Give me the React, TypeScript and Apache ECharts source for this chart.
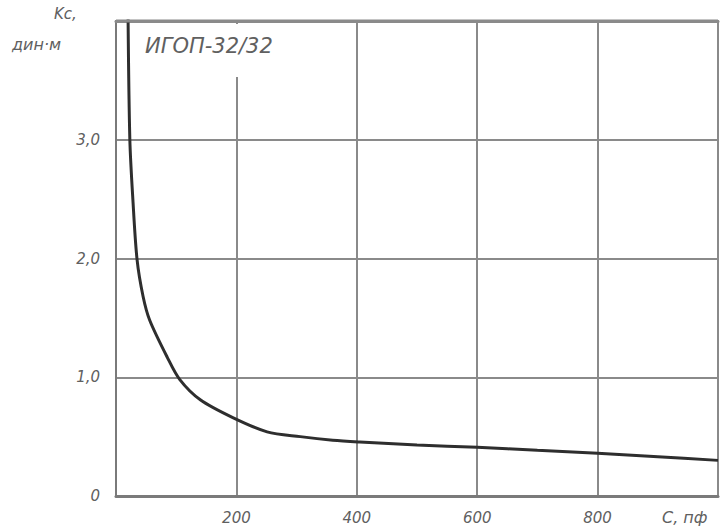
import React, { useEffect, useRef } from "react";
import * as echarts from "echarts";

const capacitance = [20, 23, 28, 35, 45, 56, 85, 106, 140, 194, 251, 306, 360, 405, 500, 600, 700, 800, 900, 1000];
const kc = [4.05, 3.0, 2.5, 1.99, 1.68, 1.48, 1.17, 0.98, 0.81, 0.66, 0.54, 0.5, 0.47, 0.455, 0.43, 0.41, 0.385, 0.36, 0.33, 0.3];
const xTickLabels: Record<number, string> = { 0: "", 200: "200", 400: "400", 600: "600", 800: "800", 1000: "" };
const yTickLabels: Record<number, string> = { 0: "0", 1: "1,0", 2: "2,0", 3: "3,0", 4: "" };
const xTitle = "C, пф";
const curveLabel = "ИГОП-32/32";
const yTitleTop = "Kc,";
const yTitleBottom = "дин·м";

export default function App() {
  const ref = useRef<HTMLDivElement>(null);
  useEffect(() => {
    if (!ref.current) return;
    const chart = echarts.init(ref.current, null, { renderer: "svg" });
    const font = "'DejaVu Sans', sans-serif";
    chart.setOption({
      animation: false,
      backgroundColor: "#fff",
      grid: {
        left: 116,
        top: 21,
        right: 6,
        bottom: 34,
        containLabel: false,
        outerBoundsMode: "none",
        show: true,
        borderColor: "#8a8a8a",
        borderWidth: 2,
      },
      xAxis: [
        {
          type: "value",
          min: 0,
          max: 1000,
          interval: 200,
          axisLine: { show: true, lineStyle: { color: "#7a7a7a", width: 3 } },
          axisTick: { show: false },
          splitLine: { show: true, showMaxLine: true, lineStyle: { color: "#8a8a8a", width: 2 } },
          axisLabel: {
            color: "#606060",
            fontFamily: font,
            fontStyle: "italic",
            fontSize: 15,
            margin: 14,
            formatter: (v: number) => xTickLabels[v] ?? "",
          },
        },
        {
          type: "value",
          position: "top",
          min: 0,
          max: 1000,
          interval: 200,
          axisLine: { show: true, onZero: false, lineStyle: { color: "#8a8a8a", width: 3 } },
          axisTick: { show: false },
          splitLine: { show: false },
          axisLabel: { show: false },
        },
      ],
      yAxis: {
        type: "value",
        min: 0,
        max: 4,
        interval: 1,
        axisLine: { show: true, lineStyle: { color: "#7a7a7a", width: 2 } },
        axisTick: { show: false },
        splitLine: { show: true, showMaxLine: true, lineStyle: { color: "#8a8a8a", width: 2 } },
        axisLabel: {
          color: "#606060",
          fontFamily: font,
          fontStyle: "italic",
          fontSize: 15,
          margin: 16,
          formatter: (v: number) => yTickLabels[v] ?? "",
        },
      },
      series: [
        {
          type: "line",
          xAxisIndex: 0,
          data: capacitance.map((c, i) => [c, kc[i]]),
          smooth: 0.3,
          showSymbol: false,
          clip: true,
          lineStyle: { color: "#2e2e2e", width: 3 },
          z: 5,
        },
      ],
      graphic: [
        {
          type: "line",
          z: 90,
          shape: { x1: 116, y1: 21, x2: 718, y2: 21 },
          style: { stroke: "#8a8a8a", lineWidth: 3 },
        },
        {
          type: "rect",
          z: 100,
          shape: { x: 136, y: 24, width: 195, height: 53 },
          style: { fill: "#fff" },
        },
        {
          type: "text",
          z: 101,
          x: 145,
          y: 35,
          style: {
            text: curveLabel,
            fill: "#606060",
            font: `italic 21px ${font}`,
          },
        },
        {
          type: "text",
          z: 101,
          x: 54,
          y: 6,
          style: { text: yTitleTop, fill: "#606060", font: `italic 15px ${font}` },
        },
        {
          type: "text",
          z: 101,
          x: 12,
          y: 36,
          style: { text: yTitleBottom, fill: "#606060", font: `italic 16px ${font}` },
        },
        {
          type: "text",
          z: 101,
          x: 662,
          y: 509,
          style: { text: xTitle, fill: "#606060", font: `italic 16px ${font}` },
        },
      ],
    });
    return () => chart.dispose();
  }, []);
  return (
    <div
      ref={ref}
      style={{ position: "fixed", left: 0, top: 0, width: 724, height: 530, background: "#fff" }}
    />
  );
}
